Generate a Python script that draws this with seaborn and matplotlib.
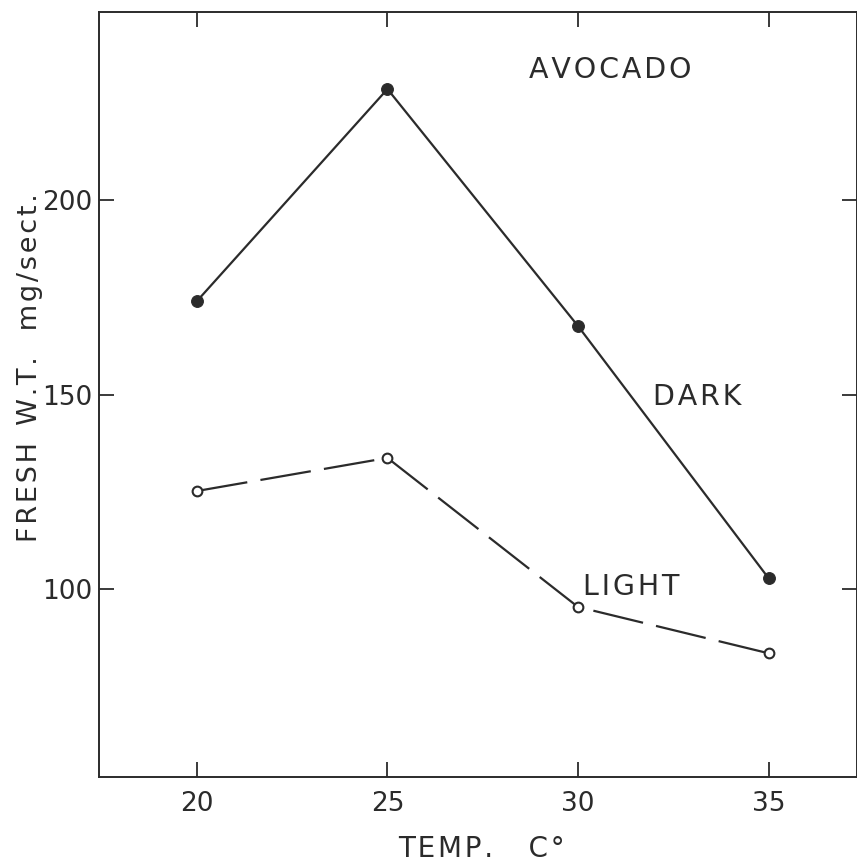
import pandas as pd
import matplotlib.pyplot as plt
import seaborn as sns

# values
temps = [20, 25, 30, 35]
dark = [174, 228.5, 167.6, 102.8]
light = [125.2, 133.7, 95.4, 83.5]
yticks = [100, 150, 200]

ink = '#2b2b2b'
sns.set_style('ticks')
plt.rcParams['font.family'] = ['DejaVu Sans']

def spaced(s):
    # slightly opened lettering like the stencil text in the original
    return '\u200a'.join(s)

df_dark = pd.DataFrame({'Temp': temps, 'Weight': dark})
df_light = pd.DataFrame({'Temp': temps, 'Weight': light})

fig = plt.figure(figsize=(8.57, 8.64), dpi=100)
ax = fig.add_axes([0.1155, 0.1007, 0.884, 0.8854])

sns.lineplot(df_dark, x='Temp', y='Weight', ax=ax, color=ink, lw=1.6,
             marker='o', markersize=8.5, markerfacecolor=ink, markeredgecolor=ink)
sns.lineplot(df_light, x='Temp', y='Weight', ax=ax, color=ink, lw=1.6,
             marker='o', markersize=7, markerfacecolor='white',
             markeredgecolor=ink, markeredgewidth=1.5, dashes=(23, 6))

ax.set_xlim(17.43, 37.31)
ax.set_ylim(51.7, 248.3)
ax.set_xticks(temps)
ax.set_yticks(yticks)
ax.tick_params(direction='in', length=11, width=1.3, color=ink, labelcolor=ink,
               labelsize=19, top=True, right=True)
ax.tick_params(axis='x', pad=10)
ax.tick_params(axis='y', pad=5)
for s in ax.spines.values():
    s.set_color(ink)
    s.set_linewidth(1.4)

ax.set_xlabel(spaced('TEMP.') + '    ' + spaced('C°'), fontsize=20, color=ink)
ax.xaxis.set_label_coords(0.505, -0.076)
ax.set_ylabel(spaced('FRESH') + '  ' + spaced('W.T.') + '   ' + spaced('mg/sect.'),
              fontsize=19.5, color=ink)
ax.yaxis.set_label_coords(-0.074, 0.535)

ax.text(28.72, 233.5, spaced('AVOCADO'), fontsize=20.5, color=ink, ha='left', va='center')
ax.text(31.98, 149.3, spaced('DARK'), fontsize=20.5, color=ink, ha='left', va='center')
ax.text(30.13, 100.5, spaced('LIGHT'), fontsize=20.5, color=ink, ha='left', va='center')

plt.savefig('out.png', dpi=100)
